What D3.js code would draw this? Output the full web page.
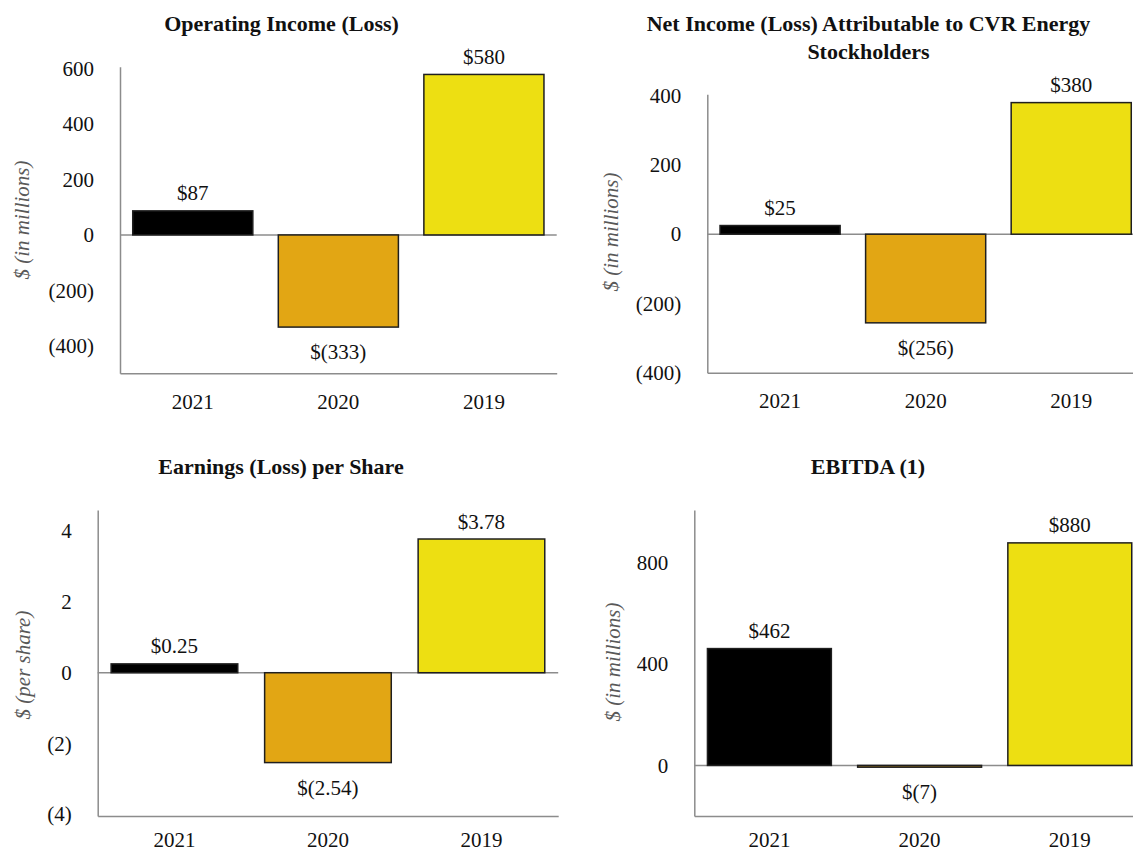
<!DOCTYPE html>
<html>
<head>
<meta charset="utf-8">
<script src="https://cdn.jsdelivr.net/npm/d3@7"></script>
<style>
  html, body { margin: 0; padding: 0; background: #ffffff; }
  svg { display: block; }
  text { font-family: "Liberation Serif", "Times New Roman", "DejaVu Serif", serif; }
</style>
</head>
<body>
<svg id="chart" width="1133" height="852"></svg>
<script>
// ---- data ----
const years = ["2021", "2020", "2019"];
const operatingIncome = [87, -333, 580];
const netIncome = [25, -256, 380];
const earningsPerShare = [0.25, -2.54, 3.78];
const ebitda = [462, -7, 880];

const operatingTicks = [-400, -200, 0, 200, 400, 600];
const netIncomeTicks = [-400, -200, 0, 200, 400];
const epsTicks = [-4, -2, 0, 2, 4];
const ebitdaTicks = [0, 400, 800];

const operatingTitle = ["Operating Income (Loss)"];
const netIncomeTitle = ["Net Income (Loss) Attributable to CVR Energy", "Stockholders"];
const epsTitle = ["Earnings (Loss) per Share"];
const ebitdaTitle = ["EBITDA (1)"];

const millionsLabel = "$ (in millions)";
const perShareLabel = "$ (per share)";

const barColors = ["#000000", "#E2A614", "#EDDF12"];

// ---- layout ----
const charts = [
  { title: operatingTitle, values: operatingIncome, ticks: operatingTicks, decimals: 0,
    domain: [-500, 608], left: 120, width: 436.7, top: 66.7, bottom: 373.3, yearGap: 35.5,
    titleX: 281.5, titleY: 31, yLabel: millionsLabel, yLabelX: 22, yLabelY: 220 },
  { title: netIncomeTitle, values: netIncome, ticks: netIncomeTicks, decimals: 0,
    domain: [-400, 404], left: 707.3, width: 436.7, top: 94.3, bottom: 372.7, yearGap: 35.5,
    titleX: 868.5, titleY: 31, yLabel: millionsLabel, yLabelX: 611, yLabelY: 232 },
  { title: epsTitle, values: earningsPerShare, ticks: epsTicks, decimals: 2,
    domain: [-4.05, 4.6], left: 97.7, width: 460.5, top: 510, bottom: 816, yearGap: 30.5,
    titleX: 281, titleY: 474, yLabel: perShareLabel, yLabelX: 23.3, yLabelY: 665 },
  { title: ebitdaTitle, values: ebitda, ticks: ebitdaTicks, decimals: 0,
    domain: [-200, 1010], left: 694.3, width: 450.6, top: 510, bottom: 816, yearGap: 30.5,
    titleX: 868, titleY: 474, yLabel: millionsLabel, yLabelX: 613.3, yLabelY: 662 }
];

const svg = d3.select("#chart");
const axisColor = "#8c8c8c";
const serif = '"Liberation Serif", "Times New Roman", "DejaVu Serif", serif';

const tickFmt = v => v < 0 ? "(" + Math.abs(v) + ")" : String(v);
const valFmt = (v, d) => v < 0 ? "$(" + Math.abs(v).toFixed(d) + ")" : "$" + v.toFixed(d);

charts.forEach(c => {
  const g = svg.append("g");
  const x = d3.scaleBand().domain(years)
    .range([c.left, c.left + c.width])
    .paddingInner(0.175).paddingOuter(0.0875);
  const y = d3.scaleLinear().domain(c.domain).range([c.bottom, c.top]);

  // title
  const t = g.append("text")
    .attr("x", c.titleX).attr("y", c.titleY)
    .attr("text-anchor", "middle")
    .attr("font-size", 22).attr("font-weight", "bold").attr("fill", "#111");
  c.title.forEach((line, i) => {
    t.append("tspan").attr("x", c.titleX).attr("dy", i === 0 ? 0 : 28).text(line);
  });

  // y axis
  const ya = g.append("g").attr("transform", `translate(${c.left},0)`)
    .call(d3.axisLeft(y).tickValues(c.ticks).tickFormat(tickFmt)
      .tickSize(0).tickSizeOuter(0).tickPadding(26));
  ya.attr("font-family", null);
  ya.select(".domain").attr("stroke", axisColor).attr("stroke-width", 1.5);
  ya.selectAll("text").attr("font-size", 21).attr("fill", "#111")
    .style("font-family", serif);

  // x axis
  const xa = g.append("g").attr("transform", `translate(0,${c.bottom})`)
    .call(d3.axisBottom(x).tickSize(0).tickSizeOuter(0));
  xa.attr("font-family", null);
  xa.select(".domain").attr("stroke", axisColor).attr("stroke-width", 1.5);
  xa.selectAll("text").attr("y", c.yearGap).attr("dy", null)
    .attr("font-size", 21).attr("fill", "#111")
    .style("font-family", serif);

  // zero line
  g.append("line")
    .attr("x1", c.left).attr("x2", c.left + c.width)
    .attr("y1", y(0)).attr("y2", y(0))
    .attr("stroke", axisColor).attr("stroke-width", 1.5);

  // y axis title
  g.append("text")
    .attr("transform", `translate(${c.yLabelX},${c.yLabelY}) rotate(-90)`)
    .attr("text-anchor", "middle").attr("dominant-baseline", "central")
    .attr("font-size", 21).attr("font-style", "italic").attr("fill", "#595959")
    .text(c.yLabel);

  // bars
  g.selectAll("rect.bar").data(c.values).enter().append("rect")
    .attr("class", "bar")
    .attr("x", (d, i) => x(years[i]))
    .attr("width", x.bandwidth())
    .attr("y", d => y(Math.max(0, d)))
    .attr("height", d => Math.abs(y(d) - y(0)))
    .attr("fill", (d, i) => barColors[i])
    .attr("stroke", "#1f1f1f").attr("stroke-width", 1.5);

  // value labels
  g.selectAll("text.val").data(c.values).enter().append("text")
    .attr("class", "val")
    .attr("x", (d, i) => x(years[i]) + x.bandwidth() / 2)
    .attr("y", d => d >= 0 ? y(d) - 10.5 : y(d) + 32)
    .attr("text-anchor", "middle")
    .attr("font-size", 21).attr("fill", "#111")
    .text(d => valFmt(d, c.decimals));
});
</script>
</body>
</html>
